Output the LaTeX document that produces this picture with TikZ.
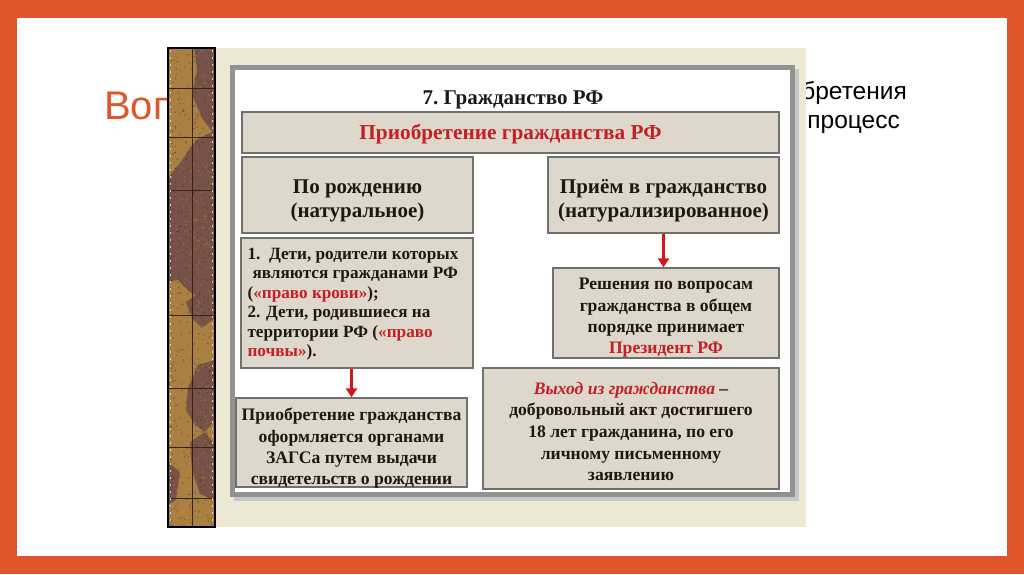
\documentclass[tikz,border=0pt]{standalone}
\usepackage{fontspec}
\setmainfont{Liberation Serif}
\newfontfamily\slidefont{Liberation Sans}
\usetikzlibrary{arrows.meta}
\definecolor{slideorange}{RGB}{223,86,42}
\definecolor{picbg}{RGB}{236,232,212}
\definecolor{framegray}{RGB}{146,146,146}
\definecolor{boxfill}{RGB}{222,215,203}
\definecolor{boxborder}{RGB}{112,112,112}
\definecolor{boxred}{RGB}{196,32,36}
\definecolor{arrowred}{RGB}{212,22,26}
\definecolor{stripgold}{RGB}{170,128,66}
\definecolor{stripdark}{RGB}{118,82,72}
\definecolor{stripline}{RGB}{52,36,28}
\definecolor{inktext}{RGB}{30,24,20}
\tikzset{
  cbox/.style={draw=boxborder, fill=boxfill, line width=1.3pt, inner sep=0pt},
  btext/.style={inner sep=0pt, text=inktext, font=\fontsize{17.6}{21.3}\selectfont\bfseries, align=center},
  htext/.style={btext, font=\fontsize{21}{24}\selectfont\bfseries},
  redarrow/.style={draw=arrowred, line width=3pt, -{Triangle[width=11pt,length=9pt]}},
}
\begin{document}
\begin{tikzpicture}[x=1pt,y=-1pt]
\useasboundingbox (0,0) rectangle (1024,574);
% slide
\fill[slideorange] (0,0) rectangle (1024,574);
\fill[white] (17,18) rectangle (1007,556);
\begin{scope}
\clip (17,18) rectangle (168,556);
\node[anchor=base west, text=slideorange, font=\slidefont\fontsize{40}{48}\selectfont, inner sep=0pt] (title) at (104,119) {Вопрос};
\end{scope}
\begin{scope}
\clip (806,18) rectangle (1007,556);
\node[anchor=base east, text=black, font=\slidefont\fontsize{24.5}{29}\selectfont, inner sep=0pt] (body1) at (907,99) {приобретения};
\node[anchor=base east, text=black, font=\slidefont\fontsize{24.5}{29}\selectfont, inner sep=0pt] (body2) at (900,128) {процесс};
\end{scope}
% picture background
\fill[picbg] (215,48) rectangle (806,527);
% textured strip
\fill[stripgold] (168,48) rectangle (215,527);
\begin{scope}
\clip (168,48) rectangle (215,527);
\fill[stripdark] (194,48) -- (215,48) -- (215,135) -- (202,118) -- (192,95) -- (197,70) -- cycle;
\fill[stripdark] (168,178) -- (182,160) -- (196,140) -- (215,130) -- (215,292) -- (205,300) -- (190,292) -- (178,280) -- (168,282) -- cycle;
\fill[stripdark] (186,302) -- (200,292) -- (215,288) -- (215,318) -- (202,328) -- (192,318) -- cycle;
\fill[stripdark] (188,388) -- (198,365) -- (215,360) -- (215,420) -- (205,432) -- (195,425) -- (186,410) -- cycle;
\fill[stripdark] (190,442) -- (205,432) -- (215,445) -- (215,500) -- (200,494) -- (192,470) -- cycle;
\fill[stripdark] (168,462) -- (180,472) -- (176,500) -- (168,505) -- cycle;
\pgfmathsetseed{42}
\foreach \i in {1,...,500} {
  \pgfmathsetmacro{\px}{168+47*rnd}
  \pgfmathsetmacro{\py}{48+479*rnd}
  \fill[stripline, opacity=0.35] (\px,\py) circle (0.9pt);
}
\foreach \i in {1,...,350} {
  \pgfmathsetmacro{\px}{168+47*rnd}
  \pgfmathsetmacro{\py}{48+479*rnd}
  \fill[stripgold!70!yellow, opacity=0.35] (\px,\py) circle (0.9pt);
}
\end{scope}
\foreach \yy in {88,137,190,315,388,447,498}
  \draw[stripline, line width=0.8pt] (168,\yy) -- (215,\yy);
\draw[stripline, line width=0.8pt] (192,48) -- (192,527);
\draw[picbg!80!gray, line width=1.6pt, dash pattern=on 2pt off 5pt] (170.5,50) -- (170.5,525);
\draw[picbg!80!gray, line width=1.6pt, dash pattern=on 2pt off 5pt] (212.5,50) -- (212.5,525);
\draw[black, line width=1.4pt] (168,48) rectangle (215,527);
% white frame
\fill[black!22] (234,69) rectangle (799,501);
\draw[framegray, fill=white, line width=5pt] (232.5,67.5) rectangle (792.5,494.5);
% title
\node[htext] (ttl) at (513,100) {7.~Гражданство РФ};
% boxes
\node[cbox, minimum width=537pt, minimum height=41pt] (acq) at (510.5,132.5) {};
\node[btext, font=\fontsize{21.3}{24}\selectfont\bfseries, text=boxred] (acqt) at ([yshift=-1.5pt]acq.center) {Приобретение гражданства РФ};
\node[cbox, minimum width=231pt, minimum height=76pt] (birth) at (357.5,195) {};
\node[htext] (birtht) at ([yshift=-6pt]birth.center) {По рождению\\(натуральное)};
\node[cbox, minimum width=231pt, minimum height=76pt] (natur) at (663.5,195) {};
\node[htext] (naturt) at ([yshift=-6pt]natur.center) {Приём в гражданство\\(натурализированное)};
\node[cbox, minimum width=232pt, minimum height=130pt] (kids) at (357,303) {};
\node[btext, font=\fontsize{17.2}{19.5}\selectfont\bfseries, align=left, anchor=west] (kidst) at ([xshift=7pt,yshift=-1pt]kids.west)
  {1.\ \ Дети, родители которых\\
   \hspace*{5pt}являются гражданами РФ\\
   (\textcolor{boxred}{«право крови»});\\
   2. Дети, родившиеся на\\
   территории РФ (\textcolor{boxred}{«право}\\
   \textcolor{boxred}{почвы»}).};
\node[cbox, minimum width=231pt, minimum height=89pt] (zags) at (351.5,442.5) {};
\node[btext] (zagst) at ([yshift=-6pt]zags.center)
  {Приобретение гражданства\\оформляется органами\\ЗАГСа путем выдачи\\свидетельств о рождении};
\node[cbox, minimum width=226pt, minimum height=90pt] (pres) at (666,313) {};
\node[btext] (prest) at ([yshift=-5pt]pres.center)
  {Решения по вопросам\\гражданства в общем\\порядке принимает\\\textcolor{boxred}{Президент РФ}};
\node[cbox, minimum width=296pt, minimum height=121pt] (exit) at (631,428.5) {};
\node[btext, font=\fontsize{17.6}{21.6}\selectfont\bfseries] (exitt) at ([yshift=-3pt]exit.center)
  {\textcolor{boxred}{\itshape Выход из гражданства} –\\добровольный акт достигшего\\18 лет гражданина, по его\\личному письменному\\заявлению};
% arrows
\draw[redarrow] (zags.north |- kids.south) -- (zags.north);
\draw[redarrow] (natur.south) -- (natur.south |- pres.north);
\end{tikzpicture}
\end{document}
